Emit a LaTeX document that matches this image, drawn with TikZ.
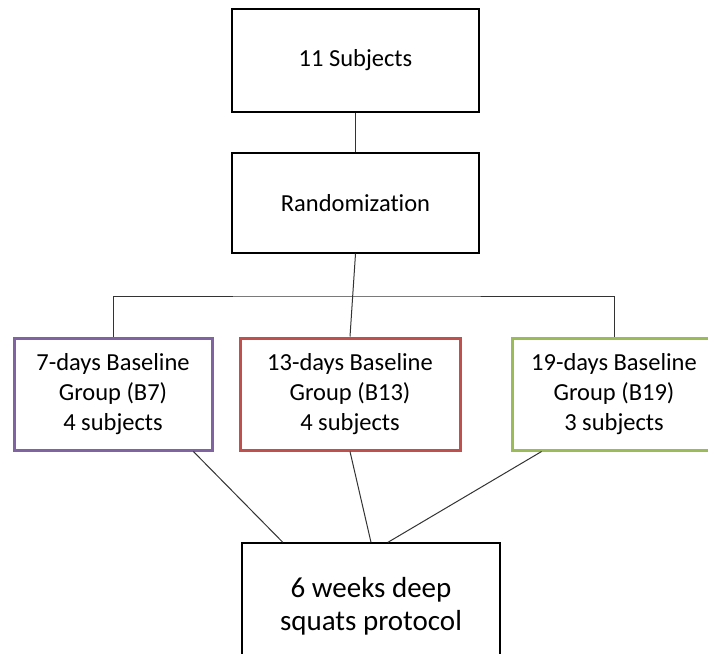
\documentclass[tikz,border=0pt]{standalone}
\usepackage{fontspec}
\setmainfont[Ligatures=NoCommon]{Carlito}
\usetikzlibrary{calc}
\definecolor{bpurple}{HTML}{8064A2}
\definecolor{bred}{HTML}{C0504D}
\definecolor{bgreen}{HTML}{9BBB59}
\definecolor{lnk}{HTML}{333333}
\begin{document}
\begin{tikzpicture}[x=1pt,y=-1pt,
  plainbox/.style={draw=black,line width=1.3pt,rectangle,inner sep=0pt,align=center,
    font=\fontsize{24.5}{30}\selectfont},
  groupbox/.style={draw=#1,line width=3pt,rectangle,inner sep=0pt,align=center,
    minimum height=112pt,font=\fontsize{24.5}{30}\selectfont},
  link/.style={draw=lnk,line width=1pt}]
\useasboundingbox (0,0) rectangle (708,653);
\clip (0,0) rectangle (708,653);
\fill[white] (0,0) rectangle (708,653);
\node[plainbox,minimum width=247pt,minimum height=103pt] (subj) at (355.5,60.5) {11 Subjects};
\node[plainbox,minimum width=247pt,minimum height=100pt] (rand) at (355.5,203) {Randomizat\kern0pt ion};
\node[groupbox=bpurple,minimum width=198pt] (b7) at (113,394) {7-days Baseline\\Group (B7)\\4 subjects};
\node[groupbox=bred,minimum width=220pt] (b13) at (350,394) {13-days Baseline\\Group (B13)\\4 subjects};
\node[groupbox=bgreen,minimum width=204pt] (b19) at (614,394) {19-days Baseline\\Group (B19)\\3 subjects};
\node[plainbox,minimum width=258pt,minimum height=126pt,font=\fontsize{29}{33}\selectfont] (prot) at (371,606) {6 weeks deep\\squats protocol};
\coordinate (bus) at (350,296);
\draw[link] (subj.south) -- (rand.north);
\draw[link] (rand.south) -- (b13.north);
\draw[link] (b7.north) |- (bus) -| (b19.north);
\draw[link] ($(b7.south)!0.8!(b7.south east)$) -- ($(prot.north)!0.68!(prot.north west)$);
\draw[link] (b13.south) -- (prot.north);
\draw[link] ($(b19.south)!0.7!(b19.south west)$) -- ($(prot.north)!0.13!(prot.north east)$);
\end{tikzpicture}
\end{document}
